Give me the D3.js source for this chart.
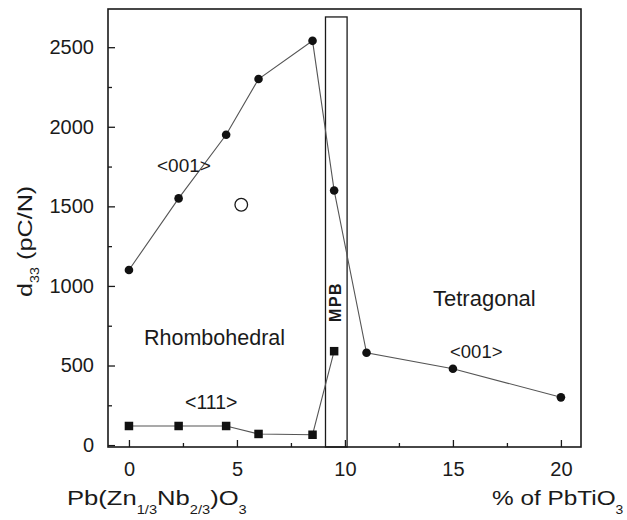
<!DOCTYPE html>
<html>
<head>
<meta charset="utf-8">
<script src="https://cdn.jsdelivr.net/npm/d3@7"></script>
<style>
  html, body { margin: 0; padding: 0; background: #fff; }
  svg text { font-family: "Liberation Sans", Arial, Helvetica, sans-serif; fill: #1a1a1a; }
</style>
</head>
<body>
<svg id="chart" width="627" height="520"></svg>
<script>
// d33 of PZN-PT single crystals versus PbTiO3 content
const pctCircle = [0, 2.3, 4.5, 6, 8.5, 9.5, 11, 15, 20];          // <001> cut
const d33Circle = [1100, 1550, 1950, 2300, 2540, 1600, 580, 480, 300];
const pctSquare = [0, 2.3, 4.5, 6, 8.5, 9.5];                       // <111> cut
const d33Square = [120, 120, 120, 70, 65, 590];
const openPoint = [5.2, 1510];                                      // single open marker
const mpbRange = [9.1, 10.1];                                       // morphotropic phase boundary
const mpbTop = 2690;
const xTicks = [0, 5, 10, 15, 20];
const xMinor = [2.5, 7.5, 12.5, 17.5];
const yTicks = [0, 500, 1000, 1500, 2000, 2500];
const yMinor = [250, 750, 1250, 1750, 2250];

const svg = d3.select("#chart");
const L = 108, R = 581, T = 9, B = 447;
const x = d3.scaleLinear().domain([-0.97, 20.93]).range([L, R]);
const y = d3.scaleLinear().domain([-12, 2740]).range([B, T]);
const ink = "#1a1a1a", lineC = "#555";
const fmt = d3.format("d");

// plot frame
svg.append("rect").attr("x", L).attr("y", T).attr("width", R - L).attr("height", B - T)
  .attr("fill", "none").attr("stroke", ink).attr("stroke-width", 1.6);

// axes with inward ticks
const xAxis = svg.append("g").attr("transform", `translate(0,${B})`)
  .call(d3.axisBottom(x).tickValues(xTicks).tickFormat(fmt).tickSizeInner(-7).tickSizeOuter(0).tickPadding(15));
const xMin = svg.append("g").attr("transform", `translate(0,${B})`)
  .call(d3.axisBottom(x).tickValues(xMinor).tickSizeInner(-4).tickSizeOuter(0).tickFormat(""));
const yAxis = svg.append("g").attr("transform", `translate(${L},0)`)
  .call(d3.axisLeft(y).tickValues(yTicks).tickFormat(fmt).tickSizeInner(-7).tickSizeOuter(0).tickPadding(14));
const yMin = svg.append("g").attr("transform", `translate(${L},0)`)
  .call(d3.axisLeft(y).tickValues(yMinor).tickSizeInner(-4).tickSizeOuter(0).tickFormat(""));
[xAxis, xMin, yAxis, yMin].forEach(g => {
  g.select(".domain").remove();
  g.selectAll("line").attr("stroke", ink).attr("stroke-width", 1.3);
  g.selectAll("text").attr("font-size", 20).attr("fill", ink)
    .style("font-family", "'Liberation Sans', Arial, sans-serif");
});
xAxis.selectAll("text").attr("dy", "0.71em");

// MPB band
svg.append("rect")
  .attr("x", x(mpbRange[0])).attr("y", y(mpbTop))
  .attr("width", x(mpbRange[1]) - x(mpbRange[0])).attr("height", y(-12) - y(mpbTop))
  .attr("fill", "none").attr("stroke", ink).attr("stroke-width", 1.3);
svg.append("text")
  .attr("transform", `translate(${x(9.6) + 5},${y(900)}) rotate(-90)`)
  .attr("text-anchor", "middle").attr("font-size", 16).attr("font-weight", "bold")
  .attr("letter-spacing", 1.5).text("MPB");

// connecting lines
const line = d3.line().x(d => x(d[0])).y(d => y(d[1]));
const circlePts = pctCircle.map((p, i) => [p, d33Circle[i]]);
const squarePts = pctSquare.map((p, i) => [p, d33Square[i]]);
[circlePts, squarePts].forEach(pts => {
  svg.append("path").datum(pts).attr("d", line)
    .attr("fill", "none").attr("stroke", lineC).attr("stroke-width", 1.1);
});

// markers
svg.selectAll("circle.c001").data(circlePts).join("circle")
  .attr("cx", d => x(d[0])).attr("cy", d => y(d[1])).attr("r", 4.3).attr("fill", "#111");
const s = 8.5;
svg.selectAll("rect.s111").data(squarePts).join("rect")
  .attr("x", d => x(d[0]) - s / 2).attr("y", d => y(d[1]) - s / 2)
  .attr("width", s).attr("height", s).attr("fill", "#111");
svg.append("circle").attr("cx", x(openPoint[0])).attr("cy", y(openPoint[1]))
  .attr("r", 6.3).attr("fill", "none").attr("stroke", ink).attr("stroke-width", 1.3);

// annotations
const note = (tx, ty, str, size) => svg.append("text").attr("x", tx).attr("y", ty)
  .attr("font-size", size).text(str);
note(157, 172, "<001>", 19);
note(144, 345, "Rhombohedral", 21.5);
note(185, 409, "<111>", 19.5);
note(433, 306, "Tetragonal", 22);
note(450, 358, "<001>", 18.5);

// axis titles (set slightly wide)
const xt1 = svg.append("text").attr("transform", "translate(67,505) scale(1.22,1)").attr("font-size", 21);
xt1.append("tspan").text("Pb(Zn");
xt1.append("tspan").attr("font-size", 12).attr("dy", 9).text("1/3");
xt1.append("tspan").attr("dy", -9).text("Nb");
xt1.append("tspan").attr("font-size", 12).attr("dy", 9).text("2/3");
xt1.append("tspan").attr("dy", -9).text(")O");
xt1.append("tspan").attr("font-size", 12).attr("dy", 9).text("3");

const xt2 = svg.append("text").attr("transform", "translate(492,505) scale(1.16,1)").attr("font-size", 21);
xt2.append("tspan").text("% of PbTiO");
xt2.append("tspan").attr("font-size", 12).attr("dy", 9).text("3");

const yt = svg.append("text").attr("transform", "translate(32,297) rotate(-90) scale(1.2,1)")
  .attr("font-size", 21);
yt.append("tspan").text("d");
yt.append("tspan").attr("font-size", 12).attr("dy", 7).text("33");
yt.append("tspan").attr("dy", -7).text(" (pC/N)");
</script>
</body>
</html>
